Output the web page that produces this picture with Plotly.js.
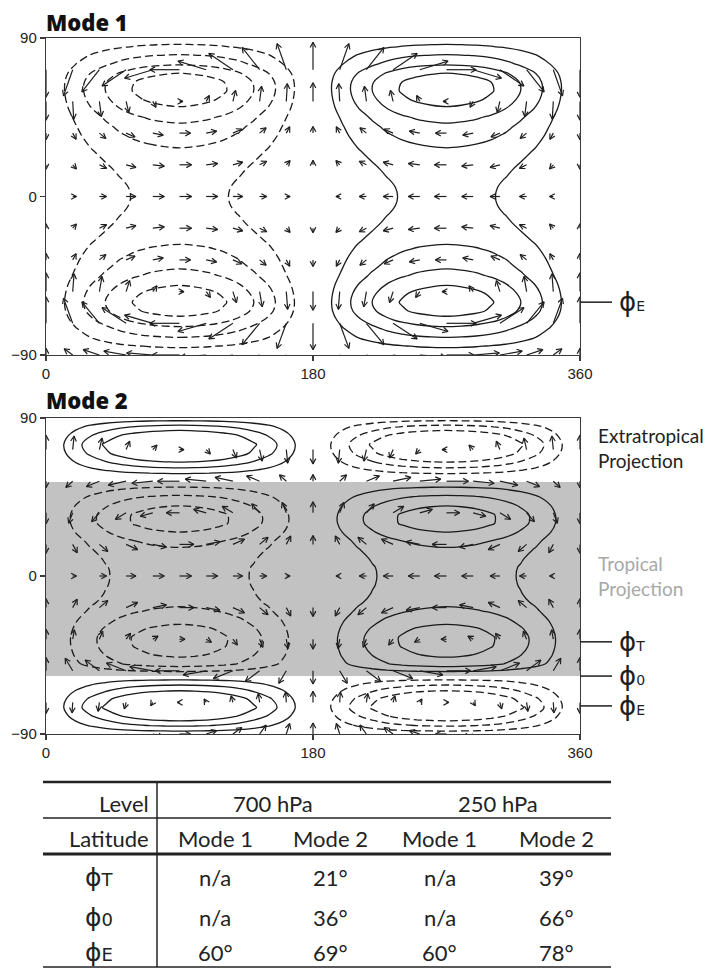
<!DOCTYPE html>
<html>
<head>
<meta charset="utf-8">
<script src="https://cdn.plot.ly/plotly-3.0.1.min.js"></script>
<style>
  html, body { margin: 0; padding: 0; background: #ffffff; }
  #chart { width: 712px; height: 968px; }
</style>
</head>
<body>
<div id="chart"></div>
<script>
// ---------------------------------------------------------------
// Grids
// ---------------------------------------------------------------
const lonGrid = [0,10,20,30,40,50,60,70,80,90,100,110,120,130,140,150,160,170,180,
                 190,200,210,220,230,240,250,260,270,280,290,300,310,320,330,340,350,360];
// zonal wave-1 structure of the pattern (negative west of 180, positive east)
const lonWave = [0,-0.17,-0.34,-0.5,-0.64,-0.77,-0.87,-0.94,-0.98,-1,-0.98,-0.94,-0.87,-0.77,-0.64,-0.5,-0.34,-0.17,0,
                 0.17,0.34,0.5,0.64,0.77,0.87,0.94,0.98,1,0.98,0.94,0.87,0.77,0.64,0.5,0.34,0.17,0];
const latGrid = [-90,-85,-80,-75,-70,-65,-60,-55,-50,-45,-40,-35,-30,-25,-20,-15,-10,-5,0,
                 5,10,15,20,25,30,35,40,45,50,55,60,65,70,75,80,85,90];

// meridional amplitude of each mode (units of one contour interval)
const mode1Profile = [0.5,1.1,2.0,2.8,3.7,4.45,4.7,4.45,3.95,3.35,2.9,2.55,2.2,1.85,1.58,1.4,1.28,1.21,1.19,
                      1.21,1.28,1.4,1.58,1.83,2.15,2.5,2.85,3.3,3.9,4.4,4.7,4.6,4.0,2.95,2.1,1.2,0.5];
const mode2Profile = [-0.4,-2.2,-3.8,-4.9,-4.3,-2.9,-1.35,0.8,2.55,3.15,3.5,3.55,3.25,2.75,2.2,1.8,1.6,1.5,1.47,
                      1.5,1.65,1.9,2.3,3.0,3.55,3.55,3.0,2.2,1.15,0.0,-1.5,-3.05,-4.4,-4.9,-3.9,-2.35,-0.4];
const mode1Levels = 4;
const mode2Levels = 3;

// wind vectors: rows of latitude, columns of longitude (lengths in px)
const arrowLats = [-90,-72,-54,-36,-18,0,18,36,54,72];
const arrowLons = [0,18,36,54,72,90,108,126,144,162,180,198,216,234,252,270,288,306,324,342,360];
const arrowSin  = [0,0.31,0.59,0.81,0.95,1,0.95,0.81,0.59,0.31,0,-0.31,-0.59,-0.81,-0.95,-1,-0.95,-0.81,-0.59,-0.31,0];
const arrowCos  = [-1,-0.95,-0.81,-0.59,-0.31,0,0.31,0.59,0.81,0.95,1,0.95,0.81,0.59,0.31,0,-0.31,-0.59,-0.81,-0.95,-1];
const mode1U = [-25,-27,4,10,11,11,11,10,3,-27];
const mode1V = [-6,-24,-17,-6,-4,0,4,6,17,25];
const mode2U = [10,-2,-22,5,13,11,13,-12,-20,4];
const mode2V = [10,10,-12,-9,-8,0,8,10,6,-13];

// tropical band of mode 2 and marked latitudes
const tropicalBand = [-57, 53.5];
const mode1Marks = [{sym: 'E', lat: -60}];
const mode2Marks = [{sym: 'T', lat: -37.5}, {sym: '0', lat: -57}, {sym: 'E', lat: -74}];

// table
const tableLevels = ['700 hPa', '250 hPa'];
const tableModes = ['Mode 1', 'Mode 2', 'Mode 1', 'Mode 2'];
const tableRows = ['T', '0', 'E'];
const tableValues = [
  ['n/a', '21°', 'n/a', '39°'],
  ['n/a', '36°', 'n/a', '66°'],
  ['60°', '69°', '60°', '78°']
];

// ---------------------------------------------------------------
// Page geometry (pixels)
// ---------------------------------------------------------------
const W = 712, H = 968;
const fx = p => p / W;
const fy = p => 1 - p / H;
const frameX = [46, 580];
const frame1Y = [38, 355];
const frame2Y = [418, 734];
const arrowScale = 1.1;

function fieldGrid(profile) {
  return latGrid.map((_, i) => lonGrid.map((_, j) => profile[i] * lonWave[j]));
}

function contourTraces(profile, maxLevel, xa, ya) {
  const z = fieldGrid(profile);
  const base = {
    type: 'contour', x: lonGrid, y: latGrid, z: z, xaxis: xa, yaxis: ya,
    autocontour: false, showscale: false, hoverinfo: 'skip'
  };
  return [
    Object.assign({}, base, {
      contours: {start: 1, end: maxLevel + 0.01, size: 1, coloring: 'none'},
      line: {color: '#1a1a1a', width: 1.3, smoothing: 1}
    }),
    Object.assign({}, base, {
      contours: {start: -maxLevel, end: -0.99, size: 1, coloring: 'none'},
      line: {color: '#1a1a1a', width: 1.3, smoothing: 1, dash: '8px,4px'}
    })
  ];
}

function arrowTrace(U, V, xa, ya, frameY) {
  const sx = 360 / (frameX[1] - frameX[0]);
  const sy = 180 / (frameY[1] - frameY[0]);
  const head = 6, ang = 28 * Math.PI / 180;
  const xs = [], ys = [];
  arrowLats.forEach((lat, i) => {
    arrowLons.forEach((lon, j) => {
      const u = U[i] * arrowSin[j] * arrowScale;
      const v = V[i] * arrowCos[j] * arrowScale;
      const len = Math.hypot(u, v);
      if (len < 0.5) return;
      const x1 = lon + u * sx, y1 = lat + v * sy;
      xs.push(lon, x1, null); ys.push(lat, y1, null);
      const bx = -u / len, by = -v / len;
      const hx = [], hy = [];
      [ang, -ang].forEach(a => {
        const rx = bx * Math.cos(a) - by * Math.sin(a);
        const ry = bx * Math.sin(a) + by * Math.cos(a);
        hx.push(x1 + rx * head * sx); hy.push(y1 + ry * head * sy);
      });
      xs.push(hx[0], x1, hx[1], null); ys.push(hy[0], y1, hy[1], null);
    });
  });
  return {type: 'scatter', mode: 'lines', x: xs, y: ys, xaxis: xa, yaxis: ya,
          line: {color: '#1f1f1f', width: 1.2}, hoverinfo: 'skip', showlegend: false};
}

const data = []
  .concat(contourTraces(mode1Profile, mode1Levels, 'x', 'y'))
  .concat([arrowTrace(mode1U, mode1V, 'x', 'y', frame1Y)])
  .concat(contourTraces(mode2Profile, mode2Levels, 'x2', 'y2'))
  .concat([arrowTrace(mode2U, mode2V, 'x2', 'y2', frame2Y)]);

const tickFont = {family: 'Liberation Sans, Arial, sans-serif', size: 15, color: '#222'};
const axisBase = {
  showgrid: false, zeroline: false, showline: true, mirror: true,
  linecolor: '#3a3a3a', linewidth: 1.2, ticks: 'outside', ticklen: 5, tickwidth: 1.2,
  tickcolor: '#3a3a3a', tickfont: tickFont, fixedrange: true
};
const xAxis = (anchor) => Object.assign({}, axisBase, {
  domain: [fx(frameX[0]), fx(frameX[1])], anchor: anchor, range: [0, 360], tickvals: [0, 180, 360]
});
const yAxis = (anchor, fr) => Object.assign({}, axisBase, {
  domain: [fy(fr[1]), fy(fr[0])], anchor: anchor, range: [-90, 90], tickvals: [-90, 0, 90]
});

const shapes = [];
const annotations = [];
const ink = '#1e1e1e';

// tropical band
shapes.push({type: 'rect', xref: 'x2', yref: 'y2', x0: 0, x1: 360,
             y0: tropicalBand[0], y1: tropicalBand[1],
             fillcolor: '#c2c2c2', line: {width: 0}, layer: 'below'});

// panel titles
const titleFont = {family: 'Open Sans, Lato, sans-serif', size: 22, weight: 800, color: '#111'};
[['Mode 1', 22], ['Mode 2', 400]].forEach(([t, py]) => {
  annotations.push({xref: 'paper', yref: 'paper', x: fx(44), y: fy(py), xanchor: 'left', yanchor: 'middle',
                    text: t, showarrow: false, font: titleFont});
});

// latitude markers on the right of each panel
function addMarks(marks, yref) {
  marks.forEach(m => {
    shapes.push({type: 'line', xref: 'paper', yref: yref, x0: fx(frameX[1]), x1: fx(612),
                 y0: m.lat, y1: m.lat, line: {color: ink, width: 1.5}});
    annotations.push({xref: 'paper', yref: yref, x: fx(617), y: m.lat, xanchor: 'left', yanchor: 'middle',
                      showarrow: false,
                      text: "<span style='font-size:26px'>ϕ</span><span style='font-size:14px'>" + m.sym + "</span>",
                      font: {family: 'DejaVu Sans, sans-serif', size: 14, color: ink}});
  });
}
addMarks(mode1Marks, 'y');
addMarks(mode2Marks, 'y2');

// projection labels
annotations.push({xref: 'paper', yref: 'paper', x: fx(596), y: fy(448), xanchor: 'left', yanchor: 'middle',
                  align: 'left', showarrow: false, text: 'Extratropical<br>Projection',
                  font: {family: 'Lato, sans-serif', size: 19, color: '#222'}});
annotations.push({xref: 'paper', yref: 'paper', x: fx(596), y: fy(576), xanchor: 'left', yanchor: 'middle',
                  align: 'left', showarrow: false, text: 'Tropical<br>Projection',
                  font: {family: 'Lato, sans-serif', size: 19, color: '#a8a8a8'}});

// ---------------------------------------------------------------
// Table
// ---------------------------------------------------------------
const tabX = [43, 611], divX = 157;
const tabLines = [[782, 2.5], [818, 1.5], [854, 3], [967, 1.5]];
tabLines.forEach(([py, w]) => {
  shapes.push({type: 'line', xref: 'paper', yref: 'paper', x0: fx(tabX[0]), x1: fx(tabX[1]),
               y0: fy(py), y1: fy(py), line: {color: '#222', width: w}});
});
shapes.push({type: 'line', xref: 'paper', yref: 'paper', x0: fx(divX), x1: fx(divX),
             y0: fy(782), y1: fy(967), line: {color: '#222', width: 1.5}});

const tabFont = {family: 'Lato, sans-serif', size: 22, color: '#222'};
const colCenters = [215, 330, 440, 556];
const headerY = [803, 838];
const rowY = [877, 917, 952];
const tabText = (text, px, py, anchor) => annotations.push({
  xref: 'paper', yref: 'paper', x: fx(px), y: fy(py), xanchor: anchor || 'center', yanchor: 'middle',
  showarrow: false, text: text, font: tabFont
});
tabText('Level', 151, headerY[0], 'right');
tabText('Latitude', 151, headerY[1], 'right');
tableLevels.forEach((t, k) => tabText(t, (colCenters[2 * k] + colCenters[2 * k + 1]) / 2, headerY[0]));
tableModes.forEach((t, k) => tabText(t, colCenters[k], headerY[1]));
tableRows.forEach((sym, r) => {
  annotations.push({xref: 'paper', yref: 'paper', x: fx(99), y: fy(rowY[r]), xanchor: 'center', yanchor: 'middle',
                    showarrow: false,
                    text: "<span style='font-size:25px'>ϕ</span><span style='font-size:18px'>" + sym + "</span>",
                    font: {family: 'DejaVu Sans, sans-serif', size: 18, color: '#222'}});
  tableValues[r].forEach((v, k) => tabText(v, colCenters[k], rowY[r]));
});

const layout = {
  width: W, height: H,
  margin: {l: 0, r: 0, t: 0, b: 0},
  paper_bgcolor: '#ffffff', plot_bgcolor: '#ffffff',
  showlegend: false,
  xaxis: xAxis('y'), yaxis: yAxis('x', frame1Y),
  xaxis2: xAxis('y2'), yaxis2: yAxis('x2', frame2Y),
  shapes: shapes, annotations: annotations
};

Plotly.newPlot('chart', data, layout, {staticPlot: true, displayModeBar: false});
</script>
</body>
</html>
